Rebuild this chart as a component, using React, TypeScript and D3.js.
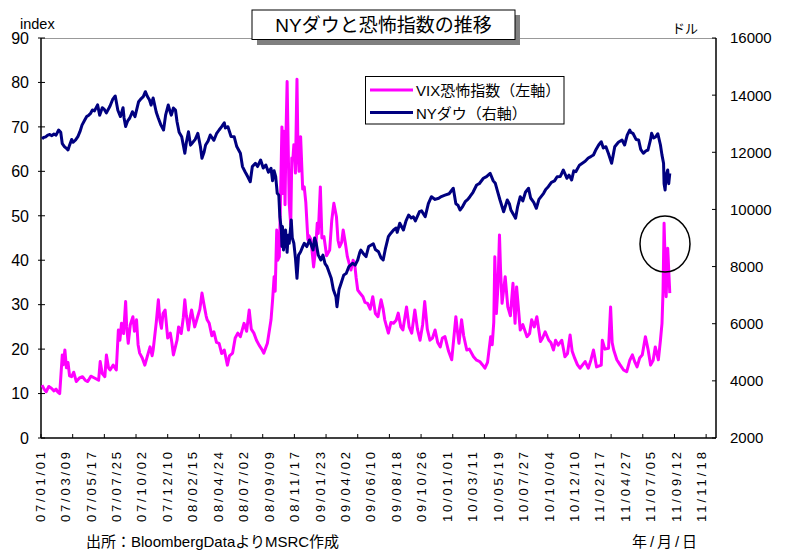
import * as d3 from "d3";
import React, { useEffect, useRef } from "react";

// x axis labels (every 49 trading days)
const xTickLabels = [
  "07/01/01", "07/03/09", "07/05/17", "07/07/25", "07/10/02", "07/12/10",
  "08/02/15", "08/04/24", "08/07/02", "08/09/09", "08/11/17", "09/01/23",
  "09/04/02", "09/06/10", "09/08/18", "09/10/26", "10/01/01", "10/03/11",
  "10/05/19", "10/07/27", "10/10/04", "10/12/10", "11/02/17", "11/04/27",
  "11/07/05", "11/09/12", "11/11/18",
];
const leftTicks = [0, 10, 20, 30, 40, 50, 60, 70, 80, 90];
const rightTicks = [2000, 4000, 6000, 8000, 10000, 12000, 14000, 16000];

// VIX恐怖指数 (左軸)
const vixData: [string, number][] = [
  ["2007-01-03", 11.9], ["2007-01-09", 11.0], ["2007-01-15", 10.4], ["2007-01-22", 11.6],
  ["2007-01-29", 11.2], ["2007-02-05", 10.6], ["2007-02-09", 11.0], ["2007-02-14", 10.4],
  ["2007-02-20", 10.0], ["2007-02-27", 18.7], ["2007-03-01", 16.5], ["2007-03-06", 19.8],
  ["2007-03-09", 15.8], ["2007-03-14", 17.0], ["2007-03-19", 14.0], ["2007-03-23", 13.8],
  ["2007-03-29", 14.8], ["2007-04-05", 12.7], ["2007-04-13", 13.5], ["2007-04-23", 13.8],
  ["2007-04-30", 13.0], ["2007-05-07", 12.7], ["2007-05-15", 13.9], ["2007-05-24", 13.5],
  ["2007-06-05", 13.0], ["2007-06-08", 17.2], ["2007-06-14", 14.5], ["2007-06-21", 13.8],
  ["2007-06-26", 18.7], ["2007-07-02", 15.8], ["2007-07-05", 15.3], ["2007-07-13", 16.4],
  ["2007-07-23", 15.3], ["2007-07-27", 24.3], ["2007-08-01", 22.0], ["2007-08-06", 25.8],
  ["2007-08-10", 23.5], ["2007-08-16", 30.7], ["2007-08-20", 25.0], ["2007-08-23", 21.3],
  ["2007-08-29", 25.5], ["2007-09-05", 27.3], ["2007-09-10", 24.0], ["2007-09-14", 26.6],
  ["2007-09-19", 21.0], ["2007-09-24", 19.1], ["2007-10-01", 18.0], ["2007-10-08", 16.4],
  ["2007-10-15", 18.5], ["2007-10-22", 20.5], ["2007-10-26", 18.5], ["2007-10-30", 19.8],
  ["2007-11-07", 26.0], ["2007-11-13", 31.1], ["2007-11-16", 26.5], ["2007-11-21", 24.7],
  ["2007-11-26", 28.0], ["2007-11-30", 28.8], ["2007-12-07", 22.5], ["2007-12-14", 23.6],
  ["2007-12-19", 21.5], ["2007-12-24", 18.7], ["2008-01-02", 22.0], ["2008-01-07", 25.0],
  ["2008-01-14", 23.5], ["2008-01-18", 27.0], ["2008-01-23", 31.1], ["2008-01-28", 27.5],
  ["2008-02-01", 24.3], ["2008-02-06", 27.0], ["2008-02-11", 28.8], ["2008-02-19", 25.0],
  ["2008-02-25", 26.6], ["2008-03-04", 29.0], ["2008-03-10", 32.6], ["2008-03-14", 30.0],
  ["2008-03-20", 27.5], ["2008-03-24", 26.6], ["2008-03-28", 25.8], ["2008-04-04", 23.0],
  ["2008-04-10", 23.9], ["2008-04-17", 21.5], ["2008-04-24", 21.3], ["2008-05-01", 19.0],
  ["2008-05-08", 19.8], ["2008-05-16", 16.4], ["2008-05-22", 18.5], ["2008-05-30", 19.1],
  ["2008-06-06", 22.5], ["2008-06-13", 23.6], ["2008-06-20", 22.8], ["2008-07-01", 25.8],
  ["2008-07-08", 24.0], ["2008-07-15", 28.8], ["2008-07-21", 24.5], ["2008-07-28", 23.6],
  ["2008-08-04", 22.0], ["2008-08-11", 20.9], ["2008-08-18", 20.0], ["2008-08-22", 19.1],
  ["2008-09-02", 21.3], ["2008-09-11", 26.6], ["2008-09-16", 31.0], ["2008-09-19", 36.3],
  ["2008-09-23", 33.0], ["2008-09-26", 46.8], ["2008-09-30", 40.0], ["2008-10-03", 40.8],
  ["2008-10-07", 52.0], ["2008-10-10", 70.0], ["2008-10-14", 55.0], ["2008-10-16", 69.0],
  ["2008-10-20", 52.5], ["2008-10-22", 69.0], ["2008-10-24", 80.2], ["2008-10-28", 66.0],
  ["2008-10-30", 52.8], ["2008-11-04", 48.0], ["2008-11-06", 63.0], ["2008-11-10", 62.6],
  ["2008-11-12", 66.0], ["2008-11-17", 59.6], ["2008-11-19", 74.0], ["2008-11-20", 80.7],
  ["2008-11-24", 64.0], ["2008-11-26", 60.0], ["2008-12-01", 67.8], ["2008-12-05", 56.0],
  ["2008-12-10", 56.5], ["2008-12-15", 53.0], ["2008-12-19", 44.6], ["2008-12-23", 45.5],
  ["2008-12-29", 44.6], ["2009-01-05", 38.5], ["2009-01-09", 42.5], ["2009-01-14", 48.3],
  ["2009-01-16", 46.0], ["2009-01-22", 56.5], ["2009-01-27", 45.0], ["2009-02-02", 45.3],
  ["2009-02-09", 41.0], ["2009-02-17", 42.3], ["2009-02-23", 49.0], ["2009-02-27", 52.8],
  ["2009-03-06", 49.8], ["2009-03-11", 44.5], ["2009-03-16", 43.0], ["2009-03-20", 44.0],
  ["2009-03-25", 46.8], ["2009-03-31", 44.0], ["2009-04-06", 40.8], ["2009-04-15", 37.8],
  ["2009-04-21", 40.0], ["2009-04-24", 39.3], ["2009-04-29", 36.0], ["2009-05-04", 33.3],
  ["2009-05-11", 32.5], ["2009-05-18", 31.8], ["2009-05-22", 30.5], ["2009-05-29", 30.3],
  ["2009-06-05", 29.0], ["2009-06-12", 31.8], ["2009-06-19", 28.0], ["2009-06-26", 27.3],
  ["2009-07-06", 31.1], ["2009-07-10", 29.0], ["2009-07-15", 26.6], ["2009-07-24", 23.6],
  ["2009-07-31", 26.0], ["2009-08-07", 25.8], ["2009-08-14", 26.5], ["2009-08-20", 28.1],
  ["2009-08-27", 25.0], ["2009-09-02", 24.3], ["2009-09-11", 29.5], ["2009-09-18", 25.0],
  ["2009-09-25", 23.6], ["2009-10-05", 28.8], ["2009-10-12", 24.5], ["2009-10-19", 22.0],
  ["2009-10-26", 25.5], ["2009-10-30", 30.7], ["2009-11-06", 24.5], ["2009-11-13", 22.0],
  ["2009-11-20", 22.5], ["2009-11-27", 24.3], ["2009-12-04", 21.5], ["2009-12-11", 20.5],
  ["2009-12-17", 22.5], ["2009-12-24", 22.8], ["2010-01-04", 19.5], ["2010-01-12", 17.6],
  ["2010-01-22", 27.3], ["2010-01-27", 24.0], ["2010-02-01", 21.3], ["2010-02-08", 26.6],
  ["2010-02-12", 23.0], ["2010-02-22", 19.8], ["2010-03-01", 20.0], ["2010-03-11", 18.3],
  ["2010-03-19", 17.5], ["2010-03-29", 17.2], ["2010-04-05", 16.5], ["2010-04-12", 15.7],
  ["2010-04-19", 17.0], ["2010-04-27", 22.8], ["2010-04-30", 21.0], ["2010-05-05", 26.0],
  ["2010-05-07", 40.8], ["2010-05-12", 28.0], ["2010-05-17", 34.0], ["2010-05-20", 45.7],
  ["2010-05-24", 38.0], ["2010-05-27", 30.3], ["2010-06-04", 36.3], ["2010-06-11", 29.5],
  ["2010-06-18", 27.5], ["2010-06-25", 34.8], ["2010-07-01", 25.8], ["2010-07-06", 34.0],
  ["2010-07-15", 24.3], ["2010-07-22", 25.5], ["2010-08-03", 22.8], ["2010-08-10", 23.5],
  ["2010-08-16", 26.6], ["2010-08-23", 25.0], ["2010-08-30", 27.3], ["2010-09-08", 21.7],
  ["2010-09-14", 22.5], ["2010-09-21", 23.9], ["2010-09-30", 22.0], ["2010-10-06", 21.5],
  ["2010-10-13", 19.8], ["2010-10-19", 22.0], ["2010-10-26", 20.9], ["2010-11-04", 22.0],
  ["2010-11-12", 18.3], ["2010-11-19", 19.0], ["2010-11-26", 23.2], ["2010-12-02", 19.5],
  ["2010-12-09", 17.9], ["2010-12-16", 16.5], ["2010-12-23", 15.7], ["2011-01-06", 17.2],
  ["2011-01-14", 15.7], ["2011-01-21", 17.5], ["2011-01-28", 19.8], ["2011-02-07", 16.0],
  ["2011-02-18", 16.4], ["2011-02-22", 22.0], ["2011-03-01", 20.0], ["2011-03-10", 20.2],
  ["2011-03-16", 29.5], ["2011-03-21", 21.5], ["2011-03-24", 19.8], ["2011-04-01", 17.6],
  ["2011-04-11", 16.5], ["2011-04-20", 15.3], ["2011-04-28", 14.9], ["2011-05-06", 17.5],
  ["2011-05-13", 18.7], ["2011-05-20", 17.0], ["2011-05-26", 16.0], ["2011-06-02", 18.0],
  ["2011-06-09", 18.7], ["2011-06-17", 22.8], ["2011-06-24", 20.0], ["2011-07-01", 16.4],
  ["2011-07-08", 17.5], ["2011-07-14", 20.5], ["2011-07-22", 17.6], ["2011-07-28", 22.0],
  ["2011-08-02", 25.8], ["2011-08-04", 33.0], ["2011-08-08", 48.3], ["2011-08-12", 31.8],
  ["2011-08-17", 42.7], ["2011-08-23", 32.6],
];

// NYダウ (右軸)
const dowData: [string, number][] = [
  ["2007-01-03", 12470], ["2007-01-08", 12520], ["2007-01-12", 12540], ["2007-01-18", 12600],
  ["2007-01-24", 12620], ["2007-01-30", 12580], ["2007-02-05", 12640], ["2007-02-09", 12600],
  ["2007-02-16", 12780], ["2007-02-22", 12700], ["2007-02-27", 12300], ["2007-03-05", 12200],
  ["2007-03-09", 12140], ["2007-03-14", 12080], ["2007-03-19", 12250], ["2007-03-23", 12450],
  ["2007-03-28", 12350], ["2007-04-03", 12420], ["2007-04-10", 12550], ["2007-04-16", 12720],
  ["2007-04-20", 12950], ["2007-04-27", 13120], ["2007-05-03", 13250], ["2007-05-09", 13300],
  ["2007-05-14", 13350], ["2007-05-18", 13480], ["2007-05-24", 13450], ["2007-06-01", 13660],
  ["2007-06-07", 13300], ["2007-06-14", 13560], ["2007-06-20", 13500], ["2007-06-26", 13380],
  ["2007-07-05", 13620], ["2007-07-12", 13850], ["2007-07-19", 13970], ["2007-07-26", 13470],
  ["2007-08-02", 13250], ["2007-08-09", 13560], ["2007-08-13", 13200], ["2007-08-16", 12900],
  ["2007-08-22", 13100], ["2007-08-28", 13200], ["2007-09-04", 13420], ["2007-09-11", 13250],
  ["2007-09-20", 13770], ["2007-09-27", 13880], ["2007-10-03", 13950], ["2007-10-09", 14120],
  ["2007-10-15", 13950], ["2007-10-19", 13830], ["2007-10-24", 13650], ["2007-10-30", 13900],
  ["2007-11-07", 13400], ["2007-11-13", 13190], ["2007-11-20", 12950], ["2007-11-27", 12780],
  ["2007-12-03", 13300], ["2007-12-10", 13655], ["2007-12-14", 13400], ["2007-12-18", 13300],
  ["2007-12-24", 13550], ["2007-12-28", 13480], ["2008-01-02", 13070], ["2008-01-08", 12700],
  ["2008-01-15", 12545], ["2008-01-23", 11965], ["2008-01-28", 12350], ["2008-02-01", 12720],
  ["2008-02-07", 12250], ["2008-02-12", 12315], ["2008-02-20", 12450], ["2008-02-27", 12665],
  ["2008-03-05", 12200], ["2008-03-10", 11790], ["2008-03-14", 12000], ["2008-03-19", 12255],
  ["2008-03-26", 12400], ["2008-04-01", 12605], ["2008-04-10", 12420], ["2008-04-17", 12650],
  ["2008-04-24", 12780], ["2008-05-01", 12900], ["2008-05-08", 13035], ["2008-05-12", 12850],
  ["2008-05-19", 12895], ["2008-05-27", 12550], ["2008-06-04", 12545], ["2008-06-11", 12200],
  ["2008-06-20", 11965], ["2008-06-26", 11500], ["2008-07-03", 11320], ["2008-07-10", 11150],
  ["2008-07-17", 10970], ["2008-07-23", 11500], ["2008-07-31", 11615], ["2008-08-06", 11500],
  ["2008-08-14", 11730], ["2008-08-21", 11450], ["2008-08-28", 11555], ["2008-09-04", 11300],
  ["2008-09-11", 11440], ["2008-09-16", 11000], ["2008-09-19", 11350], ["2008-09-24", 11145],
  ["2008-09-29", 10565], ["2008-10-02", 10500], ["2008-10-06", 9745], ["2008-10-09", 9280],
  ["2008-10-10", 8700], ["2008-10-13", 9400], ["2008-10-15", 8580], ["2008-10-17", 8900],
  ["2008-10-21", 9280], ["2008-10-24", 8500], ["2008-10-28", 9100], ["2008-10-30", 8815],
  ["2008-11-05", 9630], ["2008-11-07", 9000], ["2008-11-12", 8815], ["2008-11-17", 8300],
  ["2008-11-20", 7590], ["2008-11-25", 8400], ["2008-12-01", 8520], ["2008-12-05", 8700],
  ["2008-12-10", 8815], ["2008-12-17", 8700], ["2008-12-24", 8930], ["2009-01-02", 8580],
  ["2009-01-07", 9000], ["2009-01-12", 8815], ["2009-01-16", 8400], ["2009-01-23", 8230],
  ["2009-01-29", 8400], ["2009-02-04", 8100], ["2009-02-10", 7995], ["2009-02-20", 7590],
  ["2009-02-26", 7200], ["2009-03-05", 6945], ["2009-03-09", 6595], ["2009-03-13", 7200],
  ["2009-03-19", 7415], ["2009-03-26", 7700], ["2009-04-02", 7765], ["2009-04-09", 8000],
  ["2009-04-20", 8115], ["2009-04-27", 8050], ["2009-05-04", 8230], ["2009-05-08", 8500],
  ["2009-05-12", 8580], ["2009-05-19", 8450], ["2009-05-26", 8350], ["2009-06-02", 8700],
  ["2009-06-09", 8755], ["2009-06-15", 8800], ["2009-06-19", 8600], ["2009-06-29", 8520],
  ["2009-07-06", 8300], ["2009-07-10", 8230], ["2009-07-16", 8600], ["2009-07-24", 9045],
  ["2009-07-30", 9150], ["2009-08-07", 9280], ["2009-08-14", 9350], ["2009-08-18", 9200],
  ["2009-08-25", 9515], ["2009-09-03", 9280], ["2009-09-10", 9600], ["2009-09-17", 9805],
  ["2009-09-24", 9700], ["2009-09-30", 9745], ["2009-10-06", 9600], ["2009-10-16", 9920],
  ["2009-10-22", 9950], ["2009-11-02", 9745], ["2009-11-10", 10200], ["2009-11-18", 10445],
  ["2009-11-27", 10350], ["2009-12-08", 10390], ["2009-12-15", 10450], ["2009-12-24", 10500],
  ["2010-01-05", 10550], ["2010-01-15", 10740], ["2010-01-22", 10200], ["2010-01-28", 10150],
  ["2010-02-03", 9980], ["2010-02-10", 10100], ["2010-02-17", 10270], ["2010-02-24", 10350],
  ["2010-03-02", 10445], ["2010-03-10", 10600], ["2010-03-19", 10855], ["2010-03-26", 10900],
  ["2010-04-07", 11090], ["2010-04-15", 11150], ["2010-04-26", 11265], ["2010-05-04", 11000],
  ["2010-05-10", 10915], ["2010-05-14", 10650], ["2010-05-21", 10330], ["2010-06-01", 9920],
  ["2010-06-10", 10330], ["2010-06-16", 10200], ["2010-06-21", 9980], ["2010-07-02", 9690],
  ["2010-07-08", 10100], ["2010-07-15", 10445], ["2010-07-22", 10300], ["2010-07-29", 10600],
  ["2010-08-06", 10740], ["2010-08-12", 10400], ["2010-08-20", 10250], ["2010-08-27", 10040],
  ["2010-09-03", 10350], ["2010-09-16", 10565], ["2010-09-22", 10700], ["2010-09-29", 10795],
  ["2010-10-07", 10950], ["2010-10-15", 11000], ["2010-10-22", 11145], ["2010-11-01", 11150],
  ["2010-11-09", 11380], ["2010-11-18", 11090], ["2010-11-24", 11200], ["2010-12-01", 11030],
  ["2010-12-07", 11350], ["2010-12-13", 11320], ["2010-12-22", 11550], ["2011-01-06", 11685],
  ["2011-01-14", 11800], ["2011-01-21", 11850], ["2011-01-28", 11905], ["2011-02-04", 12100],
  ["2011-02-11", 12255], ["2011-02-18", 12370], ["2011-02-24", 12150], ["2011-03-03", 12195],
  ["2011-03-10", 11950], ["2011-03-18", 11615], ["2011-03-23", 11900], ["2011-03-28", 12195],
  ["2011-04-06", 12350], ["2011-04-15", 12430], ["2011-04-22", 12255], ["2011-04-29", 12600],
  ["2011-05-06", 12780], ["2011-05-10", 12700], ["2011-05-16", 12665], ["2011-05-24", 12450],
  ["2011-05-31", 12430], ["2011-06-06", 12100], ["2011-06-13", 11965], ["2011-06-20", 12050],
  ["2011-06-24", 12080], ["2011-07-01", 12450], ["2011-07-05", 12665], ["2011-07-11", 12500],
  ["2011-07-15", 12545], ["2011-07-21", 12650], ["2011-07-28", 12255], ["2011-08-02", 11900],
  ["2011-08-05", 11615], ["2011-08-08", 10900], ["2011-08-10", 10680], ["2011-08-12", 11200],
  ["2011-08-17", 11380], ["2011-08-19", 10900], ["2011-08-23", 11260],
];

const FONT = "'Liberation Sans', Arial, 'Noto Sans CJK JP', sans-serif";
const START = new Date(2007, 0, 1);

// trading-day position (weekdays counted from 2007-01-01, a Monday)
function bizIndex(d: Date) {
  const days = Math.round((d.getTime() - START.getTime()) / 86400000);
  const w = Math.floor(days / 7);
  return w * 5 + Math.min(days % 7, 5);
}

const App = () => {
  const svgRef = useRef<SVGSVGElement>(null);

  useEffect(() => {
    document.body.style.margin = "0";
    const width = 787;
    const height = 552;
    const left = 41, right = 716, top = 38, bottom = 438;

    const svg = d3.select(svgRef.current).attr("width", width).attr("height", height);
    svg.selectAll("*").remove();
    svg.style("font-family", FONT);

    const parseDay = d3.timeParse("%Y-%m-%d");
    const parseLabel = d3.timeParse("%y/%m/%d");

    const x = d3.scaleLinear().domain([0, 1300]).range([left, right]);
    const yL = d3.scaleLinear().domain([0, 90]).range([bottom, top]);
    const yR = d3.scaleLinear().domain([2000, 16000]).range([bottom, top]);

    // frame
    svg.append("line").attr("x1", left).attr("x2", right).attr("y1", top + 0.5).attr("y2", top + 0.5)
      .attr("stroke", "#999");

    // left axis
    const gl = svg.append("g");
    gl.append("line").attr("x1", left).attr("x2", left).attr("y1", top).attr("y2", bottom)
      .attr("stroke", "#000").attr("stroke-width", 1.5);
    gl.selectAll("line.t").data(leftTicks).join("line").attr("class", "t")
      .attr("x1", left - 3).attr("x2", left + 4)
      .attr("y1", (d) => yL(d)).attr("y2", (d) => yL(d)).attr("stroke", "#000");
    gl.selectAll("text").data(leftTicks).join("text")
      .attr("x", 29).attr("y", (d) => yL(d)).attr("dy", "0.36em")
      .attr("text-anchor", "end").attr("font-size", 16).text((d) => d);

    // right axis
    const gr = svg.append("g");
    gr.append("line").attr("x1", right).attr("x2", right).attr("y1", top).attr("y2", bottom)
      .attr("stroke", "#000").attr("stroke-width", 1.5);
    gr.selectAll("line.t").data(rightTicks).join("line").attr("class", "t")
      .attr("x1", right - 4).attr("x2", right)
      .attr("y1", (d) => yR(d)).attr("y2", (d) => yR(d)).attr("stroke", "#000");
    gr.selectAll("text").data(rightTicks).join("text")
      .attr("x", 730).attr("y", (d) => yR(d)).attr("dy", "0.36em")
      .attr("font-size", 15).text((d) => d);

    // bottom axis
    const gb = svg.append("g");
    gb.append("line").attr("x1", left).attr("x2", right).attr("y1", bottom).attr("y2", bottom)
      .attr("stroke", "#000").attr("stroke-width", 1.5);
    gb.selectAll("line.t").data(d3.range(0, 1300, 61)).join("line").attr("class", "t")
      .attr("x1", (d) => x(d)).attr("x2", (d) => x(d))
      .attr("y1", bottom - 4).attr("y2", bottom).attr("stroke", "#000");
    gb.selectAll("text").data(xTickLabels).join("text")
      .attr("transform", (d) => `translate(${x(bizIndex(parseLabel(d)!)) - 1},452) rotate(-90)`)
      .attr("dy", "0.36em").attr("text-anchor", "end")
      .attr("font-size", 13).attr("textLength", 70).attr("lengthAdjust", "spacing")
      .text((d) => d);

    // series
    const vixLine = d3.line<[string, number]>()
      .x((d) => x(bizIndex(parseDay(d[0])!)))
      .y((d) => yL(d[1]));
    const dowLine = d3.line<[string, number]>()
      .x((d) => x(bizIndex(parseDay(d[0])!)))
      .y((d) => yR(d[1]));

    svg.append("path").datum(vixData).attr("fill", "none").attr("stroke", "#ff00ff")
      .attr("stroke-width", 3).attr("stroke-linejoin", "round").attr("d", vixLine);
    svg.append("path").datum(dowData).attr("fill", "none").attr("stroke", "#000080")
      .attr("stroke-width", 3).attr("stroke-linejoin", "round").attr("d", dowLine);

    // circle around Aug 2011 spike
    svg.append("ellipse").attr("cx", 665).attr("cy", 244).attr("rx", 25).attr("ry", 28)
      .attr("fill", "none").attr("stroke", "#000").attr("stroke-width", 1.5);

    // axis titles
    svg.append("text").attr("x", 20).attr("y", 29).attr("font-size", 14.5).text("index");
    svg.append("text").attr("x", 672).attr("y", 33).attr("font-size", 13).text("ドル");

    // title box
    svg.append("rect").attr("x", 257).attr("y", 15).attr("width", 263).attr("height", 30)
      .attr("fill", "#808080");
    svg.append("rect").attr("x", 252).attr("y", 10).attr("width", 263).attr("height", 29.5)
      .attr("fill", "#fff").attr("stroke", "#000");
    svg.append("text").attr("x", 383.5).attr("y", 32).attr("text-anchor", "middle")
      .attr("font-size", 19).text("NYダウと恐怖指数の推移");

    // legend
    const lg = svg.append("g");
    lg.append("rect").attr("x", 365.5).attr("y", 76.5).attr("width", 198.5).attr("height", 47.5)
      .attr("fill", "#fff").attr("stroke", "#000");
    const legendItems = [
      { label: "VIX恐怖指数（左軸）", color: "#ff00ff", y: 90 },
      { label: "NYダウ（右軸）", color: "#000080", y: 112.5 },
    ];
    legendItems.forEach((it) => {
      lg.append("line").attr("x1", 370).attr("x2", 413).attr("y1", it.y).attr("y2", it.y)
        .attr("stroke", it.color).attr("stroke-width", 3);
      lg.append("text").attr("x", 416).attr("y", it.y + 6).attr("font-size", 15).text(it.label);
    });

    // footer
    svg.append("text").attr("x", 86).attr("y", 547).attr("font-size", 15)
      .text("出所：BloombergDataよりMSRC作成");
    svg.append("text").attr("x", 632).attr("y", 547).attr("font-size", 15)
      .attr("textLength", 65).attr("lengthAdjust", "spacing").text("年/月/日");
  }, []);

  return <svg ref={svgRef}></svg>;
};

export default App;
